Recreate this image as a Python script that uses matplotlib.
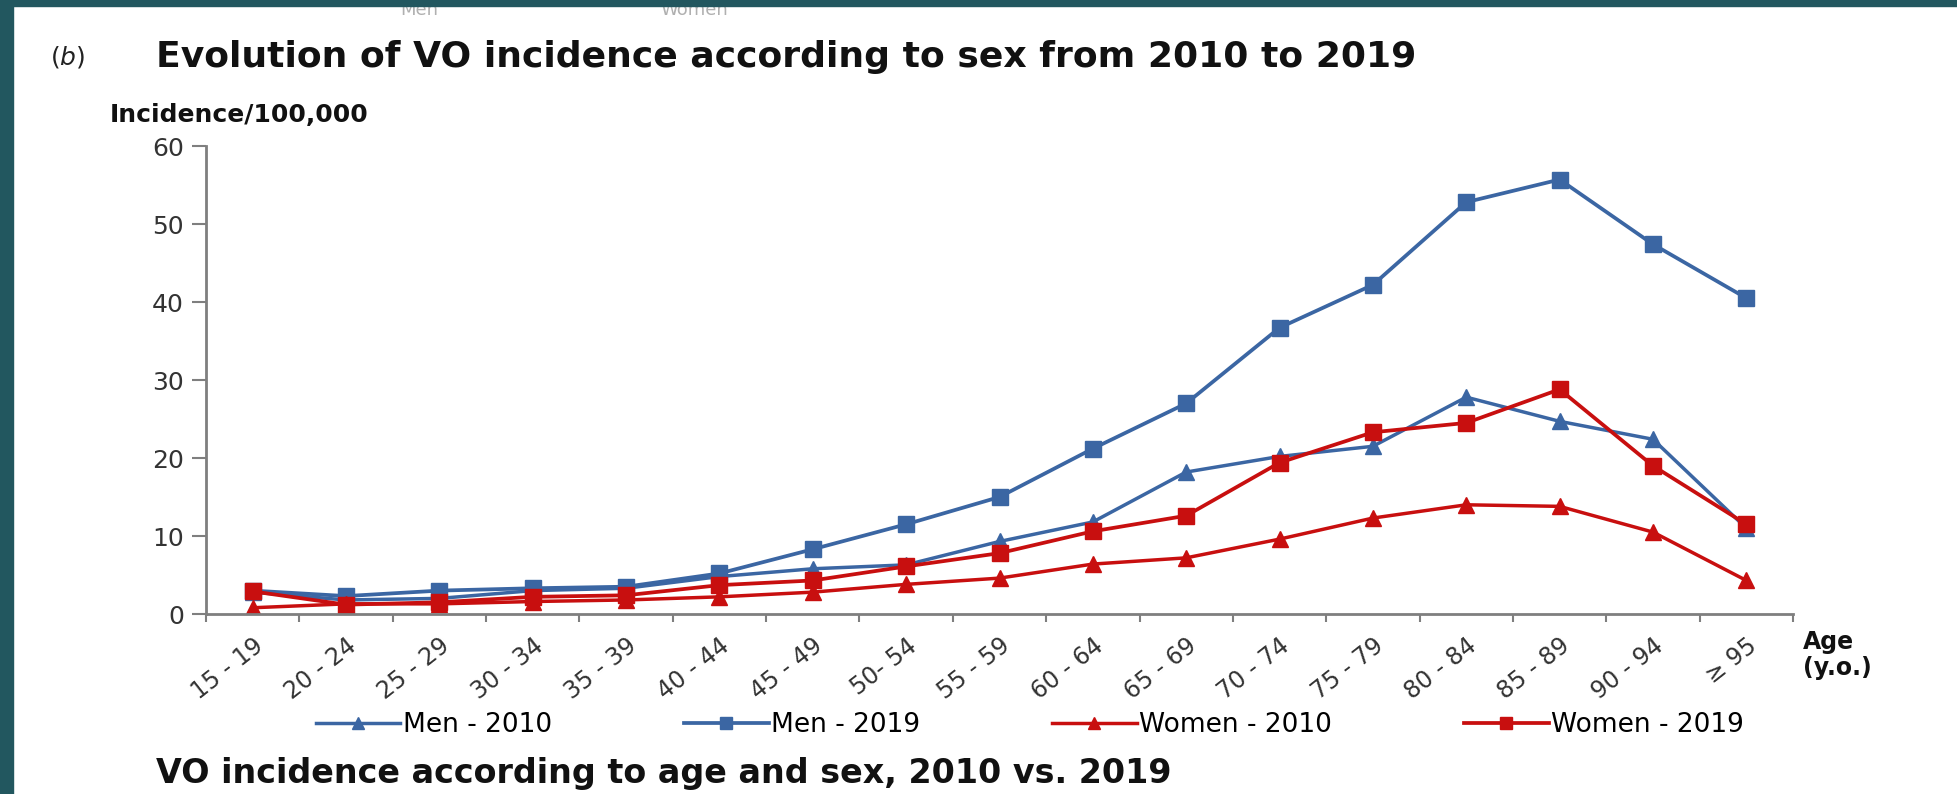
import numpy as np
import matplotlib
matplotlib.use("Agg")
import matplotlib.pyplot as plt
from matplotlib.patches import Rectangle

ages = ["15 - 19", "20 - 24", "25 - 29", "30 - 34", "35 - 39", "40 - 44", "45 - 49",
        "50- 54", "55 - 59", "60 - 64", "65 - 69", "70 - 74", "75 - 79", "80 - 84",
        "85 - 89", "90 - 94", "≥ 95"]

men_2010 = [2.8, 1.8, 2.0, 3.0, 3.3, 4.8, 5.8, 6.3, 9.3, 11.8, 18.2, 20.2, 21.5, 27.8, 24.7, 22.4, 11.0]
men_2019 = [3.0, 2.3, 3.0, 3.3, 3.5, 5.2, 8.3, 11.5, 15.0, 21.2, 27.0, 36.7, 42.2, 52.8, 55.7, 47.4, 40.5]
women_2010 = [0.8, 1.3, 1.3, 1.6, 1.8, 2.2, 2.8, 3.8, 4.6, 6.4, 7.2, 9.6, 12.3, 14.0, 13.8, 10.5, 4.3]
women_2019 = [2.9, 1.2, 1.5, 2.2, 2.4, 3.7, 4.3, 6.1, 7.8, 10.6, 12.6, 19.4, 23.3, 24.5, 28.8, 19.0, 11.5]

blue = "#3b66a3"
red = "#c80f0f"
grey = "#7f7f7f"

fig = plt.figure(figsize=(19.57, 7.94), dpi=100)
W, H = 1957, 794

# slide frame (drawn above the cut-off text at the top)
fig.patches.append(Rectangle((0, 0), 13 / W, 1, transform=fig.transFigure, color="#22575f", zorder=10))
fig.patches.append(Rectangle((0, 1 - 6 / H), 1, 6 / H, transform=fig.transFigure, color="#22575f", zorder=10))

ax = fig.add_axes([206 / W, 1 - 614 / H, (1793 - 206) / W, (614 - 146) / H])
x = np.arange(len(ages))

ax.plot(x, men_2010, color=blue, lw=2.5, marker="^", ms=12, label="Men - 2010")
ax.plot(x, men_2019, color=blue, lw=2.7, marker="s", ms=12, label="Men - 2019")
ax.plot(x, women_2010, color=red, lw=2.5, marker="^", ms=12, label="Women - 2010")
ax.plot(x, women_2019, color=red, lw=2.7, marker="s", ms=12, label="Women - 2019")

ax.set_xlim(-0.5, len(ages) - 0.5)
ax.set_ylim(0, 60)
ax.set_yticks(range(0, 61, 10))
ax.tick_params(axis="y", length=10, width=1.5, color=grey, labelsize=18, labelcolor="#333333", pad=6)
ax.set_xticks(x)
ax.set_xticklabels(ages, rotation=38, ha="right", rotation_mode="anchor", fontsize=17, color="#333333")
ax.tick_params(axis="x", which="major", length=0, pad=14)
ax.set_xticks(np.arange(-0.5, len(ages), 1), minor=True)
ax.tick_params(axis="x", which="minor", length=6, width=1.5, color=grey)

for s in ["top", "right"]:
    ax.spines[s].set_visible(False)
for s in ["left", "bottom"]:
    ax.spines[s].set_color(grey)
    ax.spines[s].set_linewidth(2)

# texts
fig.text(50 / W, 1 - 57 / H, r"($\mathit{b}$)", fontsize=18, va="center", color="#222222")
fig.text(156 / W, 1 - 57 / H, "Evolution of VO incidence according to sex from 2010 to 2019",
         fontsize=26, fontweight="bold", va="center", color="#111111")
fig.text(110 / W, 1 - 115 / H, "Incidence/100,000", fontsize=18, fontweight="bold", va="center", color="#111111")
fig.text(1803 / W, 1 - 655 / H, "Age\n(y.o.)", fontsize=17, fontweight="bold", va="center", ha="left",
         color="#111111", linespacing=1.1)
fig.text(156 / W, 1 - 773 / H, "VO incidence according to age and sex, 2010 vs. 2019",
         fontsize=24, fontweight="bold", va="center", color="#111111")

# legend of the previous panel, mostly hidden under the frame
fig.text(400 / W, 1 - 1 / H, "Men", fontsize=13, va="top", color="#b0b0b0")
fig.text(660 / W, 1 - 1 / H, "Women", fontsize=13, va="top", color="#b0b0b0")

fig.legend(loc="center", bbox_to_anchor=(1030 / W, 1 - 725 / H), ncol=4, frameon=False,
           fontsize=19, handlelength=3.2, handletextpad=0.1, columnspacing=5.0, markerscale=0.7)

fig.savefig("out.png", dpi=100)
